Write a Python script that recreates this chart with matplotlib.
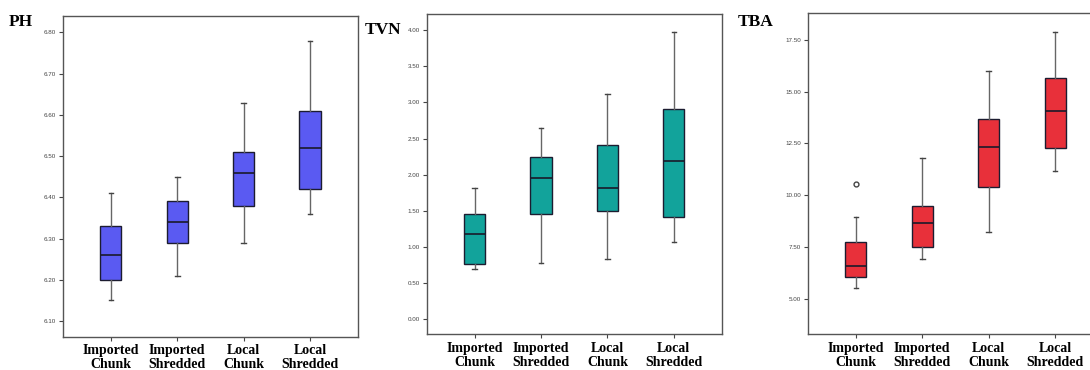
import matplotlib
matplotlib.use('Agg')
import matplotlib.pyplot as plt

categories = ['Imported\nChunk', 'Imported\nShredded', 'Local\nChunk', 'Local\nShredded']

# whisker low, Q1, median, Q3, whisker high
ph_stats = [[6.15, 6.20, 6.26, 6.33, 6.41],
            [6.21, 6.29, 6.34, 6.39, 6.45],
            [6.29, 6.38, 6.46, 6.51, 6.63],
            [6.36, 6.42, 6.52, 6.61, 6.78]]
tvn_stats = [[0.69, 0.76, 1.18, 1.46, 1.82],
             [0.78, 1.46, 1.95, 2.24, 2.65],
             [0.83, 1.50, 1.81, 2.41, 3.12],
             [1.06, 1.42, 2.19, 2.91, 3.97]]
tba_stats = [[5.50, 6.05, 6.60, 7.75, 8.95],
             [6.90, 7.50, 8.65, 9.50, 11.80],
             [8.20, 10.40, 12.35, 13.70, 16.00],
             [11.15, 12.30, 14.05, 15.65, 17.90]]
tba_outliers = [[10.55], [], [], []]

ph_ticks = [6.10, 6.20, 6.30, 6.40, 6.50, 6.60, 6.70, 6.80]
tvn_ticks = [0.00, 0.50, 1.00, 1.50, 2.00, 2.50, 3.00, 3.50, 4.00]
tba_ticks = [5.00, 7.50, 10.00, 12.50, 15.00, 17.50]


def make_stats(rows, outs=None):
    res = []
    for i, r in enumerate(rows):
        d = {'whislo': r[0], 'q1': r[1], 'med': r[2], 'q3': r[3], 'whishi': r[4],
             'fliers': outs[i] if outs else []}
        res.append(d)
    return res


def panel(fig, rect, rows, color, ticks, ylim, title, tpos, outs=None, label_pad=8):
    ax = fig.add_axes(rect)
    ax.bxp(make_stats(rows, outs), positions=[1, 2, 3, 4], widths=0.32,
           patch_artist=True, showfliers=True,
           boxprops=dict(facecolor=color, edgecolor='#1c1c30', linewidth=1.0),
           medianprops=dict(color='#1a1a2a', linewidth=1.2),
           whiskerprops=dict(color='#666666', linewidth=1.0),
           capprops=dict(color='#444444', linewidth=1.0),
           capwidths=0.07,
           flierprops=dict(marker='o', markerfacecolor='none', markeredgecolor='#444444',
                           markersize=3.5))
    ax.set_xlim(0.28, 4.72)
    ax.set_ylim(*ylim)
    ax.set_yticks(ticks)
    ax.set_yticklabels(['%.2f' % t for t in ticks], fontsize=4.5, color='#444444',
                       family='Liberation Sans')
    ax.set_xticks([1, 2, 3, 4])
    ax.set_xticklabels(categories, fontsize=10, fontweight='bold', family='Liberation Serif',
                       linespacing=1.1)
    ax.tick_params(axis='y', length=3, width=0.8, color='#444444', pad=2)
    ax.tick_params(axis='x', length=3, width=0.8, color='#444444', pad=label_pad)
    for s in ax.spines.values():
        s.set_color('#555555')
        s.set_linewidth(1.0)
    fig.text(tpos[0], tpos[1], title, fontsize=12.5, fontweight='bold',
             family='Liberation Serif', va='center', ha='left')
    return ax


fig = plt.figure(figsize=(10.9, 3.7), dpi=100)

panel(fig, [0.0578, 0.0892, 0.2706, 0.8676], ph_stats, '#5a5af2', ph_ticks,
      (6.061, 6.84), 'PH', (0.008, 0.94), label_pad=2)
panel(fig, [0.3915, 0.0973, 0.2706, 0.8649], tvn_stats, '#12a39b', tvn_ticks,
      (-0.208, 4.226), 'TVN', (0.335, 0.92), label_pad=3)
panel(fig, [0.7413, 0.0973, 0.2706, 0.8667], tba_stats, '#e8303a', tba_ticks,
      (3.29, 18.79), 'TBA', (0.677, 0.94), outs=tba_outliers, label_pad=3)

fig.savefig('out.png', dpi=100)
